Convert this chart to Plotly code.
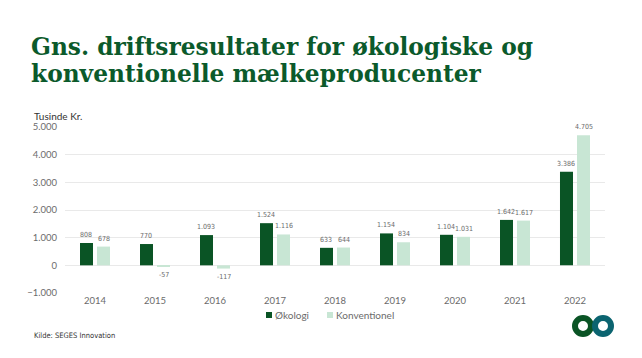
import plotly.graph_objects as go

years = ["2014", "2015", "2016", "2017", "2018", "2019", "2020", "2021", "2022"]
okologi = [808, 770, 1093, 1524, 633, 1154, 1104, 1642, 3386]
konventionel = [678, -57, -117, 1116, 644, 834, 1031, 1617, 4705]
series_names = ["Økologi", "Konventionel"]

DARK = "#0a5425"
LIGHT = "#c8e6d4"
GREY = "#6b6b6b"
NARROW = "DejaVu Sans Condensed, Liberation Sans Narrow, Lato, sans-serif"

# page body has an 8px margin; figure sized to fit in 642x358 window
OFF = 8
W, H = 626, 342
# plot area in screen pixels: x 65..605, y 127..293
SX0, SX1, SY0, SY1 = 65, 605, 127, 293
L, T = SX0 - OFF, SY0 - OFF
R, B = W - (SX1 - OFF), H - (SY1 - OFF)
pw, ph = SX1 - SX0, SY1 - SY0

def px(x):
    return (x - SX0) / pw

def py(y):
    return (SY1 - y) / ph

def fmt(v):
    return f"{v:,}".replace(",", ".")

fig = go.Figure()
for vals, name, col, shift in [(okologi, series_names[0], DARK, -9),
                               (konventionel, series_names[1], LIGHT, 9)]:
    fig.add_bar(x=years, y=vals, name=name, marker_color=col, marker_line_width=0,
                showlegend=False)
    # category axis: annotation x given as the category index
    for i, v in enumerate(vals):
        fig.add_annotation(x=i, y=v, xref="x", yref="y", text=fmt(v), showarrow=False,
                           xshift=shift, yshift=2 if v >= 0 else -2,
                           yanchor="bottom" if v >= 0 else "top",
                           font=dict(size=7, color=GREY, family=NARROW))

fig.update_layout(
    width=W, height=H,
    margin=dict(l=L, r=R, t=T, b=B, autoexpand=False),
    paper_bgcolor="white", plot_bgcolor="white",
    separators=",.",
    barmode="group", bargap=0.433, bargroupgap=0.235,
    font=dict(family="Lato", color=GREY),
    showlegend=False,
    xaxis=dict(type="category", range=[-0.5, len(years) - 0.5], autorange=False,
               showgrid=False, tickfont=dict(size=9.5, color=GREY, family="Lato"), ticks="",
               showline=False, ticklabelstandoff=0),
    yaxis=dict(range=[-1000, 5000], dtick=1000, tickformat=",", showgrid=True,
               gridcolor="#e9e9e9", gridwidth=1, zeroline=True, zerolinecolor="#e9e9e9",
               zerolinewidth=1, tickfont=dict(size=9.5, color=GREY, family="Lato"),
               ticklabelstandoff=7),
)

TITLE_COL = "#0b5a2b"
for line, yc in [("Gns. driftsresultater for økologiske og", 46.5),
                 ("konventionelle mælkeproducenter", 73.5)]:
    fig.add_annotation(text="<b>" + line + "</b>", xref="paper", yref="paper",
                       x=px(29), y=py(yc), xanchor="left", yanchor="middle",
                       align="left", showarrow=False,
                       font=dict(family="DejaVu Serif", size=23.3, color=TITLE_COL))

fig.add_annotation(text="Tusinde Kr.", xref="paper", yref="paper", x=px(32), y=py(116),
                   xanchor="left", yanchor="middle", showarrow=False,
                   font=dict(size=10, color="#333333", family="Lato"))
fig.add_annotation(text="Kilde: SEGES Innovation", xref="paper", yref="paper", x=px(32), y=py(335),
                   xanchor="left", yanchor="middle", showarrow=False,
                   font=dict(size=7.5, color="#333333", family=NARROW))

# legend (small squares + labels)
for sx, name, col in [(266, series_names[0], DARK), (327, series_names[1], LIGHT)]:
    fig.add_shape(type="rect", xref="paper", yref="paper",
                  x0=px(sx), x1=px(sx + 6), y0=py(318), y1=py(312),
                  line=dict(width=0), fillcolor=col)
    fig.add_annotation(text=name, xref="paper", yref="paper", x=px(sx + 7), y=py(315),
                       xanchor="left", yanchor="middle", showarrow=False,
                       font=dict(size=10, color=GREY, family="Lato"))

# logo rings
for cx, col in [(583, "#0a5425"), (603, "#0b6470")]:
    r = 8
    fig.add_shape(type="circle", xref="paper", yref="paper",
                  x0=px(cx - r), x1=px(cx + r), y0=py(326 + r), y1=py(326 - r),
                  line=dict(color=col, width=6), fillcolor="rgba(0,0,0,0)")

fig.write_html("out.html")
